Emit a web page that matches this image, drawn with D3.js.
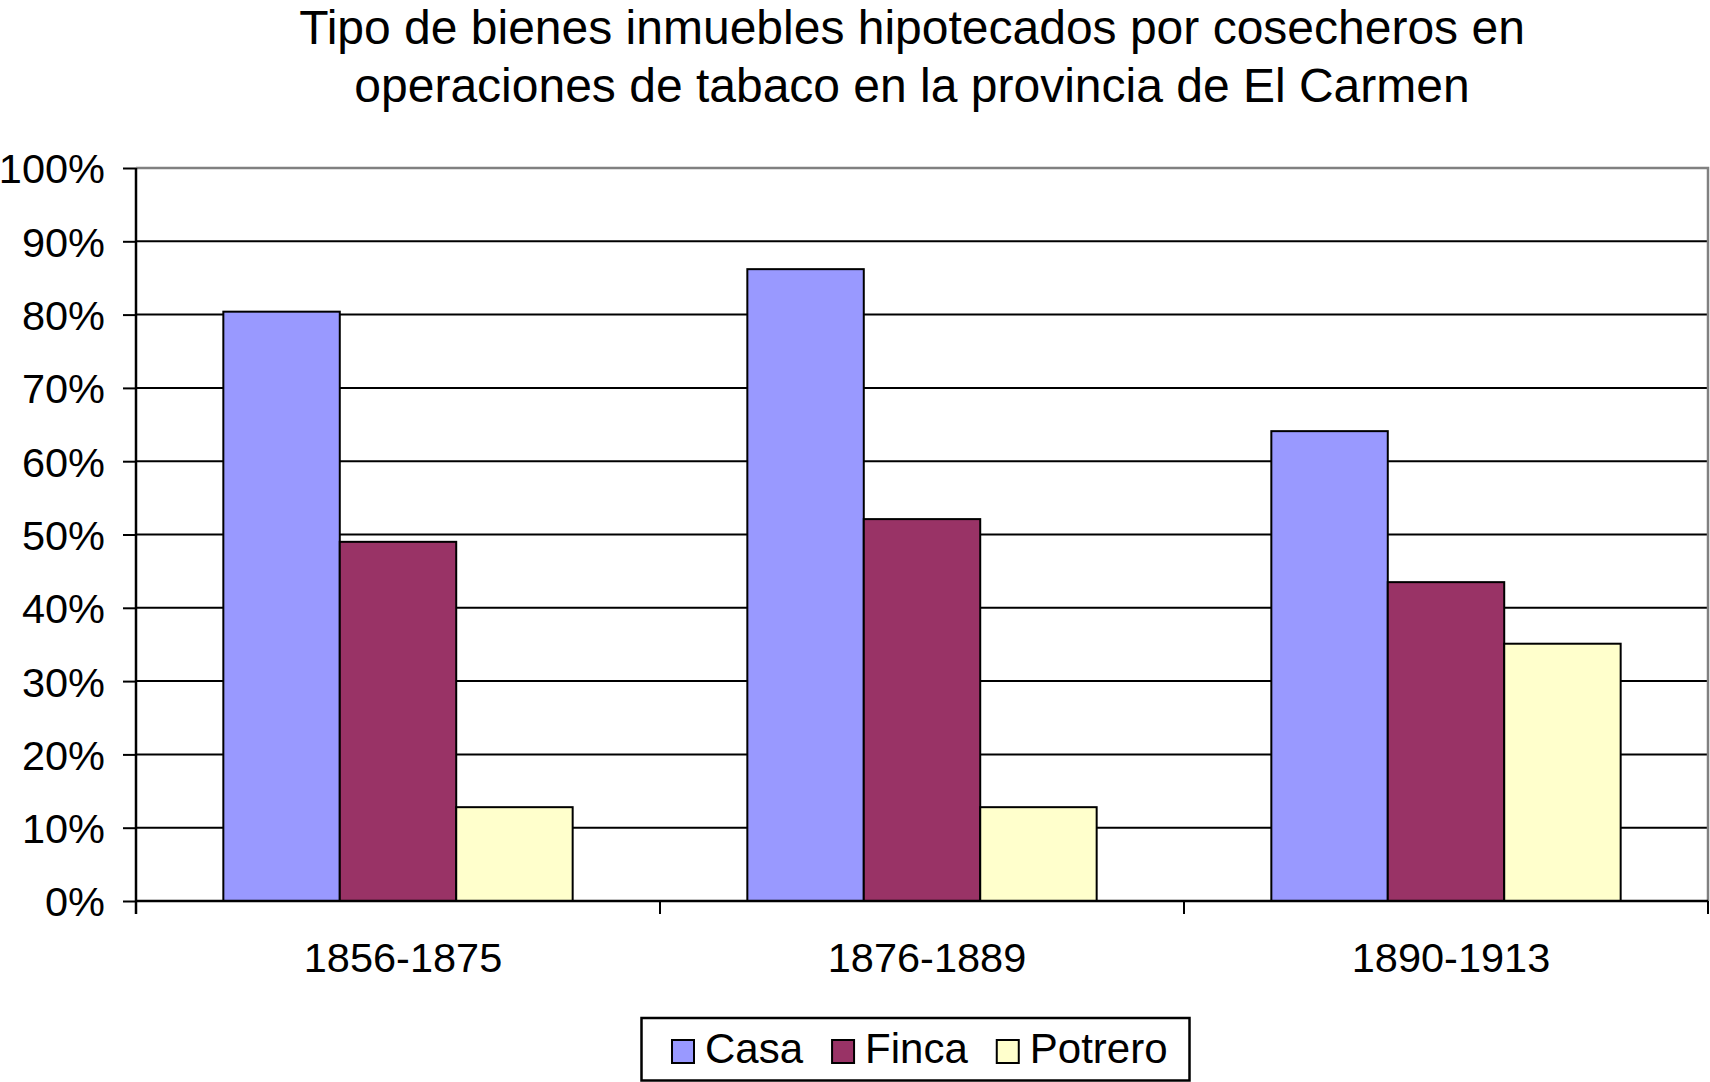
<!DOCTYPE html>
<html>
<head>
<meta charset="utf-8">
<script src="https://cdn.jsdelivr.net/npm/d3@7"></script>
<style>
  html, body { margin: 0; padding: 0; background: #fff; }
  svg { display: block; }
  text { font-family: "Liberation Sans", Arial, Helvetica, sans-serif; fill: #000; }
</style>
</head>
<body>
<svg id="chart" width="1710" height="1082"></svg>
<script>
// ---- data ----
const titleLines = ["Tipo de bienes inmuebles hipotecados por cosecheros en",
                    "operaciones de tabaco en la provincia de El Carmen"];
const periods = ["1856-1875", "1876-1889", "1890-1913"];
const seriesNames = ["Casa", "Finca", "Potrero"];
const casa    = [0.804, 0.862, 0.641];
const finca   = [0.490, 0.521, 0.435];
const potrero = [0.128, 0.128, 0.351];
const yTicks = [0, 0.1, 0.2, 0.3, 0.4, 0.5, 0.6, 0.7, 0.8, 0.9, 1.0];
const colors = ["#9999FF", "#993366", "#FFFFCC"];

const seriesValues = [casa, finca, potrero];

// ---- layout ----
const svg = d3.select("#chart");
const pLeft = 136, pRight = 1708, pTop = 168, pBottom = 901;

const x = d3.scaleBand().domain(periods).range([pLeft, pRight]).padding(0);
const bw = x.bandwidth();
const gap = bw * 1.5 / 4.5;
const x1 = d3.scaleBand().domain(seriesNames).range([gap / 2, bw - gap / 2]).padding(0);
const y = d3.scaleLinear().domain([0, 1]).range([pBottom, pTop]);
const color = d3.scaleOrdinal().domain(seriesNames).range(colors);

// title
const title = svg.append("text")
  .attr("x", 912).attr("y", 44)
  .attr("text-anchor", "middle")
  .style("font-size", "48px");
titleLines.forEach((t, i) => {
  title.append("tspan").attr("x", 912).attr("dy", i === 0 ? 0 : 58).text(t);
});

// gridlines (not the top)
svg.append("g").selectAll("line")
  .data(yTicks.filter(v => v > 0 && v < 1))
  .join("line")
  .attr("x1", pLeft).attr("x2", pRight)
  .attr("y1", d => y(d)).attr("y2", d => y(d))
  .attr("stroke", "#000").attr("stroke-width", 2);

// plot area border top & right (gray)
svg.append("path")
  .attr("d", `M${pLeft},${y(1)}H${pRight}V${y(0)}`)
  .attr("fill", "none").attr("stroke", "#808080").attr("stroke-width", 2.5);

// bars
const rows = periods.map((p, i) => ({ period: p, vals: seriesNames.map((s, j) => ({ s, v: seriesValues[j][i] })) }));
svg.append("g").selectAll("g")
  .data(rows).join("g")
  .attr("transform", d => `translate(${x(d.period)},0)`)
  .selectAll("rect")
  .data(d => d.vals).join("rect")
  .attr("x", d => x1(d.s))
  .attr("width", x1.bandwidth())
  .attr("y", d => y(d.v))
  .attr("height", d => y(0) - y(d.v))
  .attr("fill", d => color(d.s))
  .attr("stroke", "#000").attr("stroke-width", 2);

// y axis
const yAxis = d3.axisLeft(y).tickValues(yTicks).tickFormat(d3.format(".0%")).tickSize(13).tickPadding(18);
const gy = svg.append("g").attr("transform", `translate(${pLeft},0)`).call(yAxis);
gy.select(".domain").remove();
gy.selectAll(".tick line").attr("stroke", "#000").attr("stroke-width", 2);
gy.selectAll(".tick text").style("font-size", "41.5px").attr("dy", "0.36em");
svg.append("line").attr("x1", pLeft).attr("x2", pLeft).attr("y1", pTop).attr("y2", pBottom + 13)
  .attr("stroke", "#000").attr("stroke-width", 2.5);

// x axis
svg.append("line").attr("x1", pLeft).attr("x2", pRight).attr("y1", pBottom).attr("y2", pBottom)
  .attr("stroke", "#000").attr("stroke-width", 2.5);
const boundaries = periods.map(p => x(p)).concat([pRight]);
svg.append("g").selectAll("line").data(boundaries).join("line")
  .attr("x1", d => d).attr("x2", d => d).attr("y1", pBottom).attr("y2", pBottom + 13)
  .attr("stroke", "#000").attr("stroke-width", 2);
svg.append("g").selectAll("text").data(periods).join("text")
  .attr("x", d => x(d) + bw / 2 + 5).attr("y", 972)
  .attr("text-anchor", "middle")
  .style("font-size", "41.5px")
  .text(d => d);

// legend
const lg = svg.append("g");
const lgBox = lg.append("rect")
  .attr("fill", "#fff").attr("stroke", "#000").attr("stroke-width", 2.5);
let cx = 672;
seriesNames.forEach((s, i) => {
  lg.append("rect").attr("x", cx).attr("y", 1040).attr("width", 22).attr("height", 23)
    .attr("fill", color(s)).attr("stroke", "#000").attr("stroke-width", 2);
  const t = lg.append("text").attr("x", cx + 33).attr("y", 1063).style("font-size", "42px").text(s);
  const w = t.node().getComputedTextLength();
  cx = cx + 33 + w + 29;
});
const lgRight = cx - 29 + 22;
lgBox.attr("x", 641.5).attr("y", 1018).attr("width", lgRight - 641.5).attr("height", 62.5);
</script>
</body>
</html>
